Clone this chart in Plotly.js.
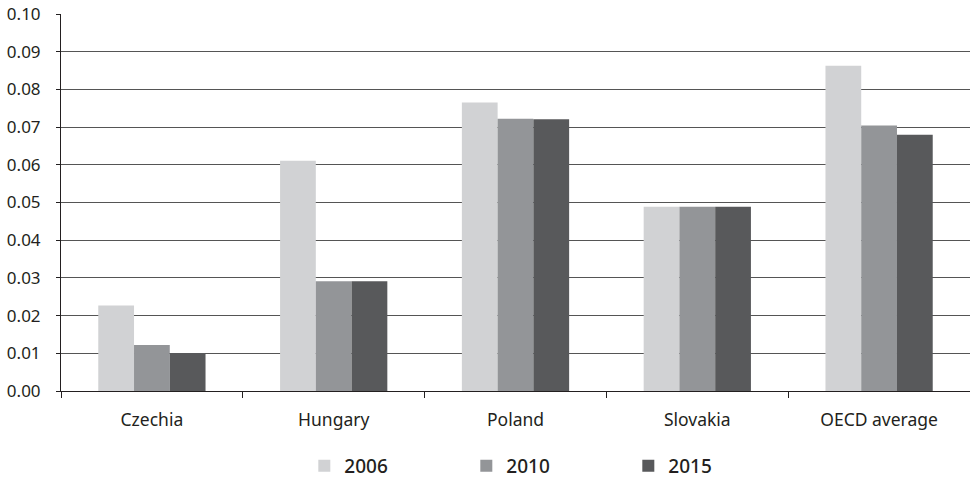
<!DOCTYPE html>
<html><head><meta charset="utf-8">
<script src="https://cdn.plot.ly/plotly-3.0.1.min.js"></script>
<style>body{margin:0;background:#fff}#chart{width:970px;height:485px}</style>
</head><body><div id="chart"></div>
<script>
const categories = ["Czechia", "Hungary", "Poland", "Slovakia", "OECD average"];
const series2006 = [0.0227, 0.0611, 0.0765, 0.0489, 0.0863];
const series2010 = [0.0122, 0.0291, 0.0722, 0.0489, 0.0704];
const series2015 = [0.0101, 0.0291, 0.0721, 0.0489, 0.0680];
const seriesNames = ["2006", "2010", "2015"];
const colors = ["#d1d2d4", "#939598", "#58595b"];
const yTicks = [0, 0.01, 0.02, 0.03, 0.04, 0.05, 0.06, 0.07, 0.08, 0.09, 0.10];

const data = [series2006, series2010, series2015].map((v, i) => ({
  type: "bar", x: categories, y: v, name: seriesNames[i],
  marker: {color: colors[i], line: {width: 0}}
}));

const layout = {
  width: 970, height: 485,
  margin: {l: 61, r: 0, t: 14, b: 93},
  paper_bgcolor: "#fff", plot_bgcolor: "#fff",
  font: {family: "Noto Sans, Open Sans, sans-serif", color: "#231f20", size: 17},
  barmode: "group", bargap: 0.41, bargroupgap: 0,
  xaxis: {
    showline: true, linecolor: "#231f20", linewidth: 1,
    ticks: "outside", tickson: "boundaries", ticklen: 6, tickcolor: "#231f20",
    tickfont: {size: 17.5}, showgrid: false, ticklabelstandoff: 13
  },
  yaxis: {
    range: [0, 0.1], tickvals: yTicks, tickformat: ".2f",
    showline: true, linecolor: "#231f20", linewidth: 1,
    ticks: "outside", ticklen: 4, tickcolor: "#231f20",
    showgrid: true, gridcolor: "#555", gridwidth: 1,
    tickfont: {size: 17}, zeroline: false, ticklabelstandoff: 12
  },
  showlegend: true,
  legend: {
    orientation: "h", x: 0.535, xanchor: "center", y: -0.2, yanchor: "middle",
    font: {size: 19, color: "#231f20", weight: 500},
    entrywidth: 117, itemwidth: 30
  }
};
Plotly.newPlot("chart", data, layout, {displayModeBar: false, staticPlot: true});
</script></body></html>
